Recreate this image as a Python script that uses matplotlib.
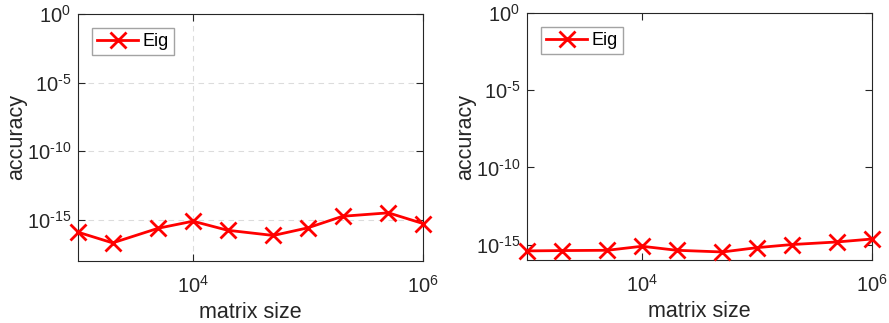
import numpy as np
import matplotlib
matplotlib.use('Agg')
import matplotlib.pyplot as plt

plt.rcParams['font.family'] = ['Liberation Sans', 'DejaVu Sans']
plt.rcParams['mathtext.fontset'] = 'custom'
plt.rcParams['mathtext.rm'] = 'Liberation Sans'

# Data
sizes = [1e3, 2e3, 5e3, 1e4, 2e4, 5e4, 1e5, 2e5, 5e5, 1e6]
acc_left_exp = [-15.9, -16.68, -15.61, -15.1, -15.76, -16.14, -15.58, -14.74, -14.49, -15.27]
acc_right_exp = [-15.41, -15.39, -15.37, -15.11, -15.37, -15.48, -15.2, -15.0, -14.83, -14.64]
acc_left = [10.0 ** e for e in acc_left_exp]
acc_right = [10.0 ** e for e in acc_right_exp]

xticks = [1e4, 1e6]
xticklabels = ['$\\mathregular{10^{4}}$', '$\\mathregular{10^{6}}$']
yticks = [1e-15, 1e-10, 1e-5, 1e0]
yticklabels = ['$\\mathregular{10^{\\text{-15}}}$', '$\\mathregular{10^{\\text{-10}}}$',
               '$\\mathregular{10^{\\text{-5}}}$', '$\\mathregular{10^{0}}$']

fig = plt.figure(figsize=(8.89, 3.23), dpi=100)
ax1 = fig.add_axes([78/889, 62/323, 345/889, 247/323])
ax2 = fig.add_axes([527/889, 63/323, 345/889, 247/323])

dark = '#262626'
for ax, y, ylim, grid in [(ax1, acc_left, (1e-18, 1), True), (ax2, acc_right, (1e-16, 1), False)]:
    ax.plot(sizes, y, color='red', linewidth=2, marker='x', markersize=11,
            markeredgewidth=2, label='Eig', clip_on=False, zorder=3)
    ax.set_xscale('log')
    ax.set_yscale('log')
    ax.set_xlim(1e3, 1e6)
    ax.set_ylim(*ylim)
    ax.set_xticks(xticks)
    ax.set_xticklabels(xticklabels)
    ax.set_yticks(yticks)
    ax.set_yticklabels(yticklabels)
    ax.minorticks_off()
    ax.tick_params(direction='in', top=True, right=True, length=5, width=0.8,
                   labelsize=14.5, colors=dark, pad=5)
    ax.tick_params(axis='x', pad=10)
    for s in ax.spines.values():
        s.set_color(dark)
        s.set_linewidth(0.8)
    ax.set_xlabel('matrix size', fontsize=15.5, color=dark, labelpad=4)
    ax.set_ylabel('accuracy', fontsize=15.5, color=dark, labelpad=0)
    if grid:
        ax.grid(True, linestyle=(0, (5, 4)), color='#dcdcdc', linewidth=0.8)
        ax.set_axisbelow(True)
    leg = ax.legend(loc='upper left', fontsize=13, frameon=True, fancybox=False,
                    borderpad=0.3, handlelength=2.3, handletextpad=0.2,
                    borderaxespad=0.75)
    leg.get_frame().set_edgecolor('#8c8c8c')
    leg.get_frame().set_linewidth(1.0)

fig.savefig('out.png', dpi=100)
